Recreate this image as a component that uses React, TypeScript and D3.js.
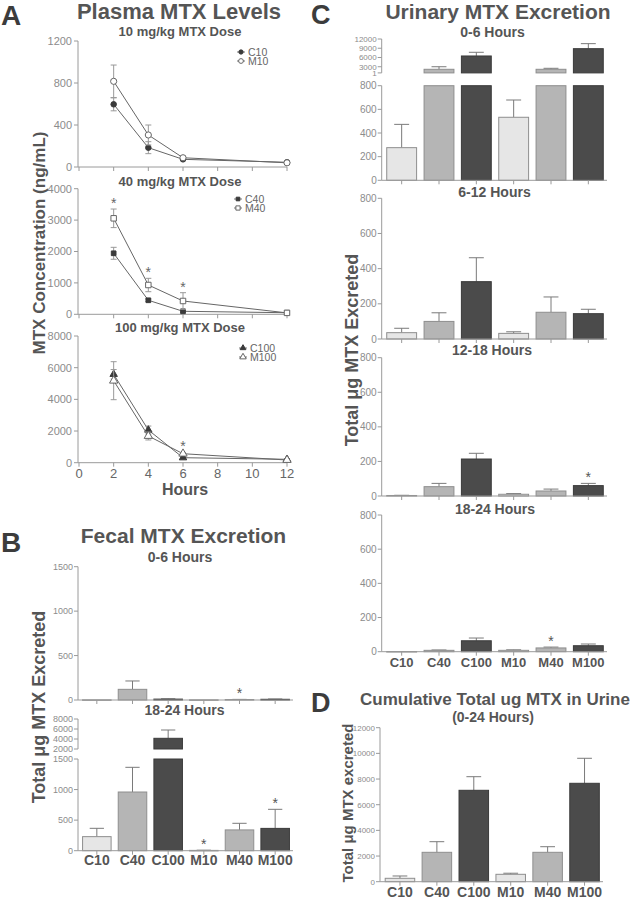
import React from 'react';
import * as d3 from 'd3';

const FONT = "'Liberation Sans', Arial, Helvetica, sans-serif";

// ---------- shared categories ----------
const groups = ['C10', 'C40', 'C100', 'M10', 'M40', 'M100'];
const barFill = ['#e6e6e6', '#b5b5b5', '#4b4b4b', '#e6e6e6', '#b5b5b5', '#4b4b4b'];
const barStroke = ['#8e8e8e', '#8e8e8e', '#3a3a3a', '#8e8e8e', '#8e8e8e', '#3a3a3a'];

// ---------- Panel A: plasma MTX (ng/mL) ----------
const hours = [2, 4, 6, 12];
const hourTicks = [0, 2, 4, 6, 8, 10, 12];
const c10Mean = [597, 184, 73, 45];
const c10Err = [62, 57, 12, 8];
const m10Mean = [816, 305, 88, 40];
const m10Err = [155, 95, 15, 8];
const c40Mean = [1943, 446, 96, 50];
const c40Err = [190, 40, 30, 10];
const m40Mean = [3057, 933, 424, 45];
const m40Err = [296, 213, 264, 10];
const c100Mean = [5582, 2065, 316, 215];
const c100Err = [300, 250, 60, 30];
const m100Mean = [5178, 1686, 568, 170];
const m100Err = [1200, 250, 80, 30];
const a10Ticks = [0, 400, 800, 1200];
const a40Ticks = [0, 1000, 2000, 3000, 4000];
const a100Ticks = [0, 2000, 4000, 6000, 8000];
const a40Stars = [0, 1, 2];
const a100Stars = [2];

// ---------- Panel B: fecal MTX (ug) ----------
const fecal06Mean = [2, 120, 10, 2, 5, 8];
const fecal06Err = [0, 94, 3, 0, 2, 3];
const fecal06Stars = ['M40'];
const fecal1824Mean = [230, 960, 4140, 5, 340, 365];
const fecal1824Err = [136, 404, 1660, 3, 108, 312];
const fecal1824Stars = ['M10', 'M100'];
const fecalLowTicks = [0, 500, 1000, 1500];
const fecalHighTicks = [2000, 4000, 6000, 8000];

// ---------- Panel C: urinary MTX (ug) ----------
const urine06Mean = [276, 2170, 6490, 533, 2170, 8860];
const urine06Err = [197, 830, 1200, 146, 320, 1630];
const urine612Mean = [36, 100, 326, 32, 152, 144];
const urine612Err = [25, 49, 136, 9, 87, 25];
const urine1218Mean = [3, 54, 214, 10, 29, 60];
const urine1218Err = [1, 19, 33, 4, 11, 13];
const urine1218Stars = ['M100'];
const urine1824Mean = [1, 8, 64, 8, 22, 35];
const urine1824Err = [0, 2, 16, 3, 5, 10];
const urine1824Stars = ['M40'];
const urineLowTicks = [0, 200, 400, 600, 800];
const urineHighTicks = [1000, 3000, 6000, 9000, 12000];
const urineHighLabels = ['1', '3000', '6000', '9000', '12000'];

// ---------- Panel D: cumulative urinary MTX ----------
const cumMean = [265, 2290, 7122, 576, 2290, 7668];
const cumErr = [180, 827, 1060, 84, 437, 1948];
const cumTicks = [0, 2000, 4000, 6000, 8000, 10000, 12000];

const AXIS = '#9a9a9a';
const TICKTXT = '#8c8c8c';
const TXT = '#555';

const xH = d3.scaleLinear().domain([0, 12]).range([79, 287]);

type Series = { mean: number[]; err: number[]; filled: boolean; shape: d3.SymbolType; size: number; name: string };

function Marker({ s, x, y, scale = 1 }: { s: Series; x: number; y: number; scale?: number }) {
  const p = d3.symbol().type(s.shape).size(s.size * scale)();
  return (
    <path d={p || ''} transform={`translate(${x},${y})`} fill={s.filled ? '#3a3a3a' : '#fff'} stroke={s.filled ? '#3a3a3a' : '#666'} strokeWidth={1} />
  );
}

function LineSub({ y0, y1, max, ticks, series, stars, legendX, legendY, title, titleY, showX }: any) {
  const y = d3.scaleLinear().domain([0, max]).range([y0, y1]);
  const line = d3.line<number>().x((_, i) => xH(hours[i])).y((d) => y(d));
  return (
    <g>
      <text x={180} y={titleY} textAnchor="middle" fontSize={13} fontWeight="bold" fill={TXT}>{title}</text>
      <line x1={78} x2={78} y1={y0} y2={y1} stroke={AXIS} />
      {ticks.map((t: number) => (
        <g key={t}>
          <line x1={74} x2={78} y1={y(t)} y2={y(t)} stroke={AXIS} />
          <text x={72} y={y(t)} dy="0.35em" textAnchor="end" fontSize={11} fill={TICKTXT}>{t}</text>
        </g>
      ))}
      <line x1={78} x2={xH(12)} y1={y0} y2={y0} stroke={AXIS} />
      {hourTicks.map((h) => (
        <g key={h}>
          <line x1={xH(h)} x2={xH(h)} y1={y0} y2={y0 + 4} stroke={AXIS} />
          {showX && <text x={xH(h)} y={y0 + 15} textAnchor="middle" fontSize={13} fill="#666">{h}</text>}
        </g>
      ))}
      {series.map((s: Series, si: number) => (
        <g key={si}>
          <path d={line(s.mean) || ''} fill="none" stroke="#666" strokeWidth={1} />
          {s.mean.map((m, i) => (
            <g key={i}>
              <line x1={xH(hours[i])} x2={xH(hours[i])} y1={y(m - s.err[i])} y2={y(m + s.err[i])} stroke="#999" />
              <line x1={xH(hours[i]) - 3} x2={xH(hours[i]) + 3} y1={y(m + s.err[i])} y2={y(m + s.err[i])} stroke="#999" />
              <line x1={xH(hours[i]) - 3} x2={xH(hours[i]) + 3} y1={y(m - s.err[i])} y2={y(m - s.err[i])} stroke="#999" />
            </g>
          ))}
          {s.mean.map((m, i) => <Marker key={'m' + i} s={s} x={xH(hours[i])} y={y(m)} />)}
        </g>
      ))}
      {stars && stars.map((i: number) => {
        const s = series[1];
        const top = y(s.mean[i] + s.err[i]) - 9;
        return <text key={'st' + i} x={xH(hours[i])} y={top + 8} textAnchor="middle" fontSize={14} fill="#666">*</text>;
      })}
      {series.map((s: Series, si: number) => (
        <g key={'lg' + si}>
          <line x1={legendX - 4} x2={legendX + 4} y1={legendY + si * 9} y2={legendY + si * 9} stroke="#777" />
          <Marker s={s} x={legendX} y={legendY + si * 9} scale={0.6} />
          <text x={legendX + 7} y={legendY + si * 9} dy="0.35em" fontSize={10.5} fill="#666">{s.name}</text>
        </g>
      ))}
    </g>
  );
}

type Seg = { d: [number, number]; r: [number, number]; ticks: number[]; labels?: string[]; font: number };

function BarSub({ segs, means, errs, stars, range, axisX, showLabels, labelY, labelFont, title, titleX, titleY, titleFont }: any) {
  const x = d3.scaleBand<string>().domain(groups).range(range).paddingInner(0.2).paddingOuter(0.1);
  const bw = x.bandwidth();
  const base = segs[0].r[0];
  const cap = bw * 0.25;
  return (
    <g>
      <text x={titleX} y={titleY} textAnchor="middle" fontSize={titleFont} fontWeight="bold" fill={TXT}>{title}</text>
      {segs.map((seg: Seg, k: number) => {
        const y = d3.scaleLinear().domain(seg.d).range(seg.r);
        return (
          <g key={k}>
            <line x1={axisX} x2={axisX} y1={seg.r[0]} y2={seg.r[1]} stroke={AXIS} />
            {seg.ticks.map((t, j) => (
              <g key={t}>
                <line x1={axisX - 4} x2={axisX} y1={y(t)} y2={y(t)} stroke={AXIS} />
                <text x={axisX - 5} y={y(t)} dy="0.35em" textAnchor="end" fontSize={seg.font} fill={TICKTXT}>{seg.labels ? seg.labels[j] : t}</text>
              </g>
            ))}
            {means.map((v: number, i: number) => {
              if (v <= seg.d[0]) return null;
              const top = Math.min(v, seg.d[1]);
              const cx = (x(groups[i]) as number) + bw / 2;
              const inSeg = v <= seg.d[1];
              const et = Math.min(v + errs[i], seg.d[1]);
              return (
                <g key={i}>
                  {inSeg && errs[i] > 0 && (
                    <g>
                      <line x1={cx} x2={cx} y1={y(v)} y2={y(et)} stroke="#7a7a7a" />
                      <line x1={cx - cap} x2={cx + cap} y1={y(et)} y2={y(et)} stroke="#7a7a7a" />
                    </g>
                  )}
                  <rect x={x(groups[i])} y={y(top)} width={bw} height={Math.max(0.5, y(seg.d[0]) - y(top))} fill={barFill[i]} stroke={barStroke[i]} strokeWidth={1} />
                </g>
              );
            })}
            {k === 0 && stars && stars.map((g: string) => {
              const i = groups.indexOf(g);
              const cx = (x(g) as number) + bw / 2;
              const c = y(means[i] + errs[i]) - 9;
              return <text key={g} x={cx} y={c + 8} textAnchor="middle" fontSize={14} fill="#555">*</text>;
            })}
          </g>
        );
      })}
      <line x1={axisX} x2={range[1]} y1={base} y2={base} stroke={AXIS} />
      {groups.map((g) => (
        <g key={g}>
          <line x1={(x(g) as number) + bw / 2} x2={(x(g) as number) + bw / 2} y1={base} y2={base + 4} stroke={AXIS} />
          {showLabels && <text x={(x(g) as number) + bw / 2} y={labelY} textAnchor="middle" fontSize={labelFont} fontWeight="bold" fill={TXT}>{g}</text>}
        </g>
      ))}
    </g>
  );
}

export default function App() {
  const c10: Series = { mean: c10Mean, err: c10Err, filled: true, shape: d3.symbolCircle, size: 24, name: 'C10' };
  const m10: Series = { mean: m10Mean, err: m10Err, filled: false, shape: d3.symbolCircle, size: 30, name: 'M10' };
  const c40: Series = { mean: c40Mean, err: c40Err, filled: true, shape: d3.symbolSquare, size: 22, name: 'C40' };
  const m40: Series = { mean: m40Mean, err: m40Err, filled: false, shape: d3.symbolSquare, size: 30, name: 'M40' };
  const c100: Series = { mean: c100Mean, err: c100Err, filled: true, shape: d3.symbolTriangle, size: 24, name: 'C100' };
  const m100: Series = { mean: m100Mean, err: m100Err, filled: false, shape: d3.symbolTriangle, size: 30, name: 'M100' };

  return (
    <svg width={633} height={899} style={{ position: 'absolute', left: 0, top: 0, background: '#fff' }} fontFamily={FONT}>
      <rect width={633} height={899} fill="#fff" />
      <text x={1} y={25} fontSize={28} fontWeight="bold" fill="#3c3c3c">A</text>
      <text x={1} y={552} fontSize={28} fontWeight="bold" fill="#3c3c3c">B</text>
      <text x={311} y={23.5} fontSize={27} fontWeight="bold" fill="#3c3c3c">C</text>
      <text x={311} y={712} fontSize={27} fontWeight="bold" fill="#3c3c3c">D</text>

      {/* Panel A */}
      <text x={179} y={19} textAnchor="middle" fontSize={22} fontWeight="bold" fill={TXT}>Plasma MTX Levels</text>
      <LineSub y0={167} y1={41} max={1200} ticks={a10Ticks} series={[c10, m10]} stars={null} legendX={241} legendY={52} title="10 mg/kg MTX Dose" titleY={36} showX={false} />
      <LineSub y0={314.3} y1={188.7} max={4000} ticks={a40Ticks} series={[c40, m40]} stars={a40Stars} legendX={238} legendY={199} title="40 mg/kg MTX Dose" titleY={186} showX={false} />
      <LineSub y0={462.7} y1={336} max={8000} ticks={a100Ticks} series={[c100, m100]} stars={a100Stars} legendX={243} legendY={348} title="100 mg/kg MTX Dose" titleY={332} showX={true} />
      <text x={185} y={495} textAnchor="middle" fontSize={16} fontWeight="bold" fill={TXT}>Hours</text>
      <text transform="translate(45,243) rotate(-90)" textAnchor="middle" fontSize={17} fontWeight="bold" fill={TXT}>MTX Concentration (ng/mL)</text>

      {/* Panel B */}
      <text x={183.5} y={543} textAnchor="middle" fontSize={21} fontWeight="bold" fill={TXT}>Fecal MTX Excretion</text>
      <BarSub segs={[{ d: [0, 1500], r: [700, 566.7], ticks: fecalLowTicks, font: 9 }]} means={fecal06Mean} errs={fecal06Err} stars={fecal06Stars}
        range={[79, 293]} axisX={78} showLabels={false} title="0-6 Hours" titleX={180} titleY={562} titleFont={14} />
      <BarSub segs={[{ d: [0, 1500], r: [850.7, 759], ticks: fecalLowTicks, font: 9 }, { d: [2000, 8000], r: [749, 719], ticks: fecalHighTicks, font: 9 }]}
        means={fecal1824Mean} errs={fecal1824Err} stars={fecal1824Stars} range={[79, 293]} axisX={78} showLabels={true} labelY={865} labelFont={14}
        title="18-24 Hours" titleX={184.5} titleY={715} titleFont={14} />
      <text transform="translate(45,707) rotate(-90)" textAnchor="middle" fontSize={18} fontWeight="bold" fill={TXT}>Total μg MTX Excreted</text>

      {/* Panel C */}
      <text x={498} y={19} textAnchor="middle" fontSize={21} fontWeight="bold" fill={TXT}>Urinary MTX Excretion</text>
      <BarSub segs={[{ d: [0, 800], r: [180.3, 85.7], ticks: urineLowTicks, font: 10 }, { d: [1000, 12000], r: [72.9, 39], ticks: urineHighTicks, labels: urineHighLabels, font: 8 }]}
        means={urine06Mean} errs={urine06Err} stars={null} range={[383, 607]} axisX={381.7} showLabels={false}
        title="0-6 Hours" titleX={492.5} titleY={37} titleFont={14} />
      <BarSub segs={[{ d: [0, 800], r: [339, 198.3], ticks: urineLowTicks, font: 10 }]} means={urine612Mean} errs={urine612Err} stars={null}
        range={[383, 607]} axisX={381.7} showLabels={false} title="6-12 Hours" titleX={494.5} titleY={197} titleFont={14} />
      <BarSub segs={[{ d: [0, 800], r: [496, 357.7], ticks: urineLowTicks, font: 10 }]} means={urine1218Mean} errs={urine1218Err} stars={urine1218Stars}
        range={[383, 607]} axisX={381.7} showLabels={false} title="12-18 Hours" titleX={492} titleY={355} titleFont={14} />
      <BarSub segs={[{ d: [0, 800], r: [651.7, 515], ticks: urineLowTicks, font: 10 }]} means={urine1824Mean} errs={urine1824Err} stars={urine1824Stars}
        range={[383, 607]} axisX={381.7} showLabels={true} labelY={667} labelFont={13} title="18-24 Hours" titleX={495} titleY={514} titleFont={14} />
      <text transform="translate(358,350) rotate(-90)" textAnchor="middle" fontSize={18} fontWeight="bold" fill={TXT}>Total μg MTX Excreted</text>

      {/* Panel D */}
      <text x={495} y={705} textAnchor="middle" fontSize={17} fontWeight="bold" fill={TXT}>Cumulative Total ug MTX in Urine</text>
      <BarSub segs={[{ d: [0, 12000], r: [881.7, 727.7], ticks: cumTicks, font: 8 }]} means={cumMean} errs={cumErr} stars={null}
        range={[381.5, 603]} axisX={380} showLabels={true} labelY={897} labelFont={14}
        title="(0-24 Hours)" titleX={493} titleY={722} titleFont={14} />
      <text transform="translate(353,803) rotate(-90)" textAnchor="middle" fontSize={15} fontWeight="bold" fill={TXT}>Total μg MTX excreted</text>
    </svg>
  );
}
